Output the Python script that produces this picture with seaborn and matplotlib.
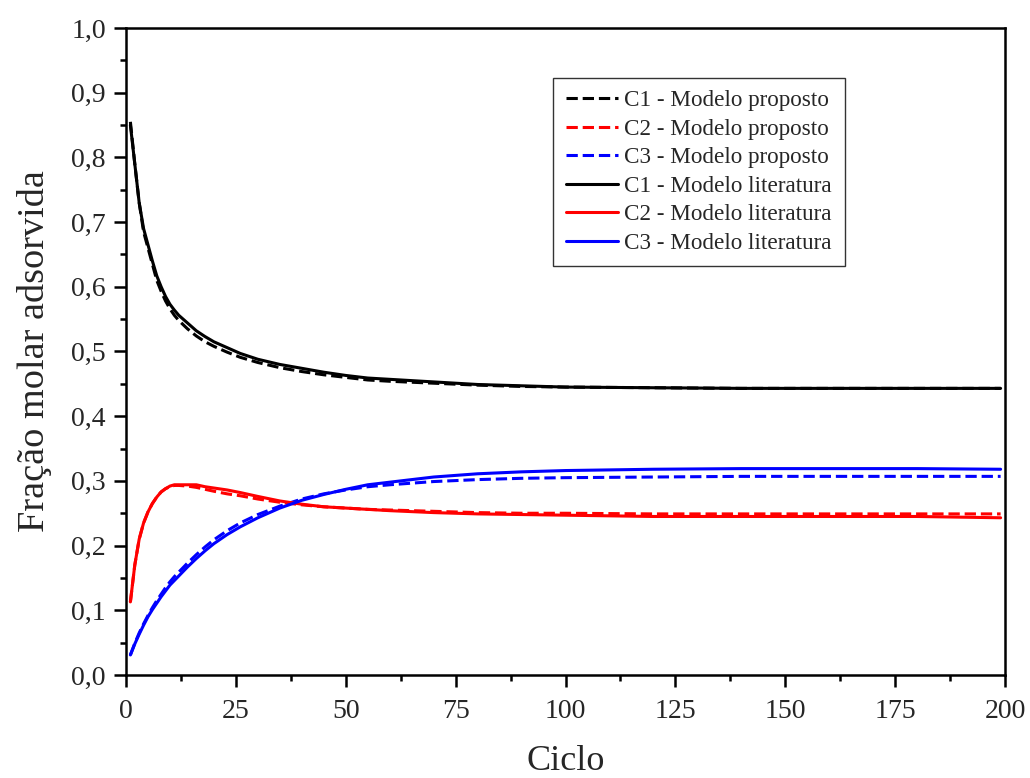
import matplotlib
matplotlib.use("Agg")
import matplotlib.pyplot as plt
import seaborn as sns
import pandas as pd
from matplotlib.ticker import MultipleLocator, FuncFormatter

cycles = [1, 2, 3, 4, 5, 6, 7, 8, 9, 10, 11, 12, 14, 16, 18, 20, 23, 26, 30, 35,
          40, 45, 50, 55, 60, 70, 80, 90, 100, 120, 140, 160, 180, 199]

c1_prop = [0.855, 0.79, 0.73, 0.685, 0.66, 0.635, 0.61, 0.593, 0.578, 0.566, 0.556, 0.548,
           0.535, 0.524, 0.515, 0.508, 0.499, 0.491, 0.483, 0.475, 0.469, 0.464, 0.460,
           0.456, 0.454, 0.451, 0.448, 0.446, 0.445, 0.444, 0.443, 0.443, 0.443, 0.443]
c2_prop = [0.113, 0.17, 0.21, 0.235, 0.252, 0.265, 0.275, 0.283, 0.288, 0.291, 0.293, 0.293,
           0.292, 0.290, 0.287, 0.284, 0.280, 0.277, 0.272, 0.267, 0.263, 0.260, 0.258,
           0.256, 0.255, 0.253, 0.251, 0.250, 0.250, 0.249, 0.249, 0.249, 0.249, 0.249]
c3_prop = [0.031, 0.049, 0.065, 0.079, 0.092, 0.104, 0.115, 0.125, 0.135, 0.144, 0.152, 0.159,
           0.173, 0.186, 0.198, 0.209, 0.223, 0.235, 0.248, 0.261, 0.272, 0.280, 0.286,
           0.291, 0.294, 0.299, 0.302, 0.304, 0.305, 0.306, 0.307, 0.307, 0.307, 0.307]
c1_lit = [0.850, 0.79, 0.73, 0.69, 0.665, 0.64, 0.617, 0.600, 0.585, 0.573, 0.564, 0.556,
          0.544, 0.532, 0.523, 0.515, 0.506, 0.497, 0.488, 0.480, 0.474, 0.468, 0.463,
          0.459, 0.457, 0.453, 0.449, 0.447, 0.445, 0.444, 0.443, 0.443, 0.443, 0.443]
c2_lit = [0.113, 0.17, 0.21, 0.235, 0.252, 0.265, 0.275, 0.283, 0.288, 0.292, 0.294, 0.294,
          0.294, 0.294, 0.291, 0.289, 0.286, 0.282, 0.276, 0.269, 0.264, 0.260, 0.258,
          0.256, 0.254, 0.251, 0.249, 0.248, 0.247, 0.245, 0.245, 0.245, 0.245, 0.243]
c3_lit = [0.031, 0.048, 0.063, 0.077, 0.090, 0.101, 0.111, 0.121, 0.130, 0.139, 0.146, 0.153,
          0.167, 0.180, 0.192, 0.203, 0.217, 0.229, 0.243, 0.258, 0.270, 0.279, 0.287,
          0.294, 0.298, 0.306, 0.311, 0.314, 0.316, 0.318, 0.319, 0.319, 0.319, 0.318]

series = [
    ("C1 - Modelo proposto", c1_prop, "black", "--"),
    ("C2 - Modelo proposto", c2_prop, "red", "--"),
    ("C3 - Modelo proposto", c3_prop, "blue", "--"),
    ("C1 - Modelo literatura", c1_lit, "black", "-"),
    ("C2 - Modelo literatura", c2_lit, "red", "-"),
    ("C3 - Modelo literatura", c3_lit, "blue", "-"),
]

sns.set_style("white")
plt.rcParams['font.family'] = ['Liberation Serif', 'DejaVu Serif']

fig = plt.figure(figsize=(10.3, 7.78), dpi=100)
ax = fig.add_axes([126 / 1030, (778 - 675) / 778, (1005 - 126) / 1030, (675 - 28) / 778])

for name, vals, col, ls in series:
    df = pd.DataFrame({"Ciclo": cycles, "y": vals})
    kw = dict(dashes=(2.8, 4.3)) if ls == "--" else {}
    sns.lineplot(data=df, x="Ciclo", y="y", ax=ax, color=col, linestyle=ls,
                 linewidth=2.2, label=name, **kw)

ax.set_xlim(0, 200)
ax.set_ylim(0, 1.0)
ax.xaxis.set_major_locator(MultipleLocator(25))
ax.xaxis.set_minor_locator(MultipleLocator(12.5))
ax.yaxis.set_major_locator(MultipleLocator(0.1))
ax.yaxis.set_minor_locator(MultipleLocator(0.05))
ax.yaxis.set_major_formatter(FuncFormatter(lambda v, p: f"{v:.1f}".replace(".", ",")))
ax.xaxis.set_major_formatter(FuncFormatter(lambda v, p: f"{int(round(v))}"))
ax.tick_params(axis="both", which="major", direction="out", length=8.5, width=1.8,
               labelsize=20, color="black", bottom=True, left=True, top=False, right=False)
ax.tick_params(axis="y", which="major", pad=6)
ax.tick_params(axis="x", which="major", pad=9)
ax.tick_params(axis="both", which="minor", direction="out", length=4.5, width=1.8,
               color="black", bottom=True, left=True, top=False, right=False)
for sp in ax.spines.values():
    sp.set_visible(True)
    sp.set_color("black")
    sp.set_linewidth(1.8)

ax.set_xlabel("Ciclo", fontsize=26)
ax.xaxis.set_label_coords(0.5, -0.108)
ax.set_ylabel("Fração molar adsorvida", fontsize=27.5, labelpad=14)

leg = ax.legend(loc="upper left", bbox_to_anchor=((553 - 126) / 879, (675 - 77.5) / 647),
                fontsize=16.7, frameon=True, fancybox=False, edgecolor="black",
                handlelength=2.27, handletextpad=0.26, labelspacing=0.31,
                borderpad=0.55, borderaxespad=0)
leg.get_frame().set_linewidth(1.0)

fig.savefig("out.png", dpi=100)
